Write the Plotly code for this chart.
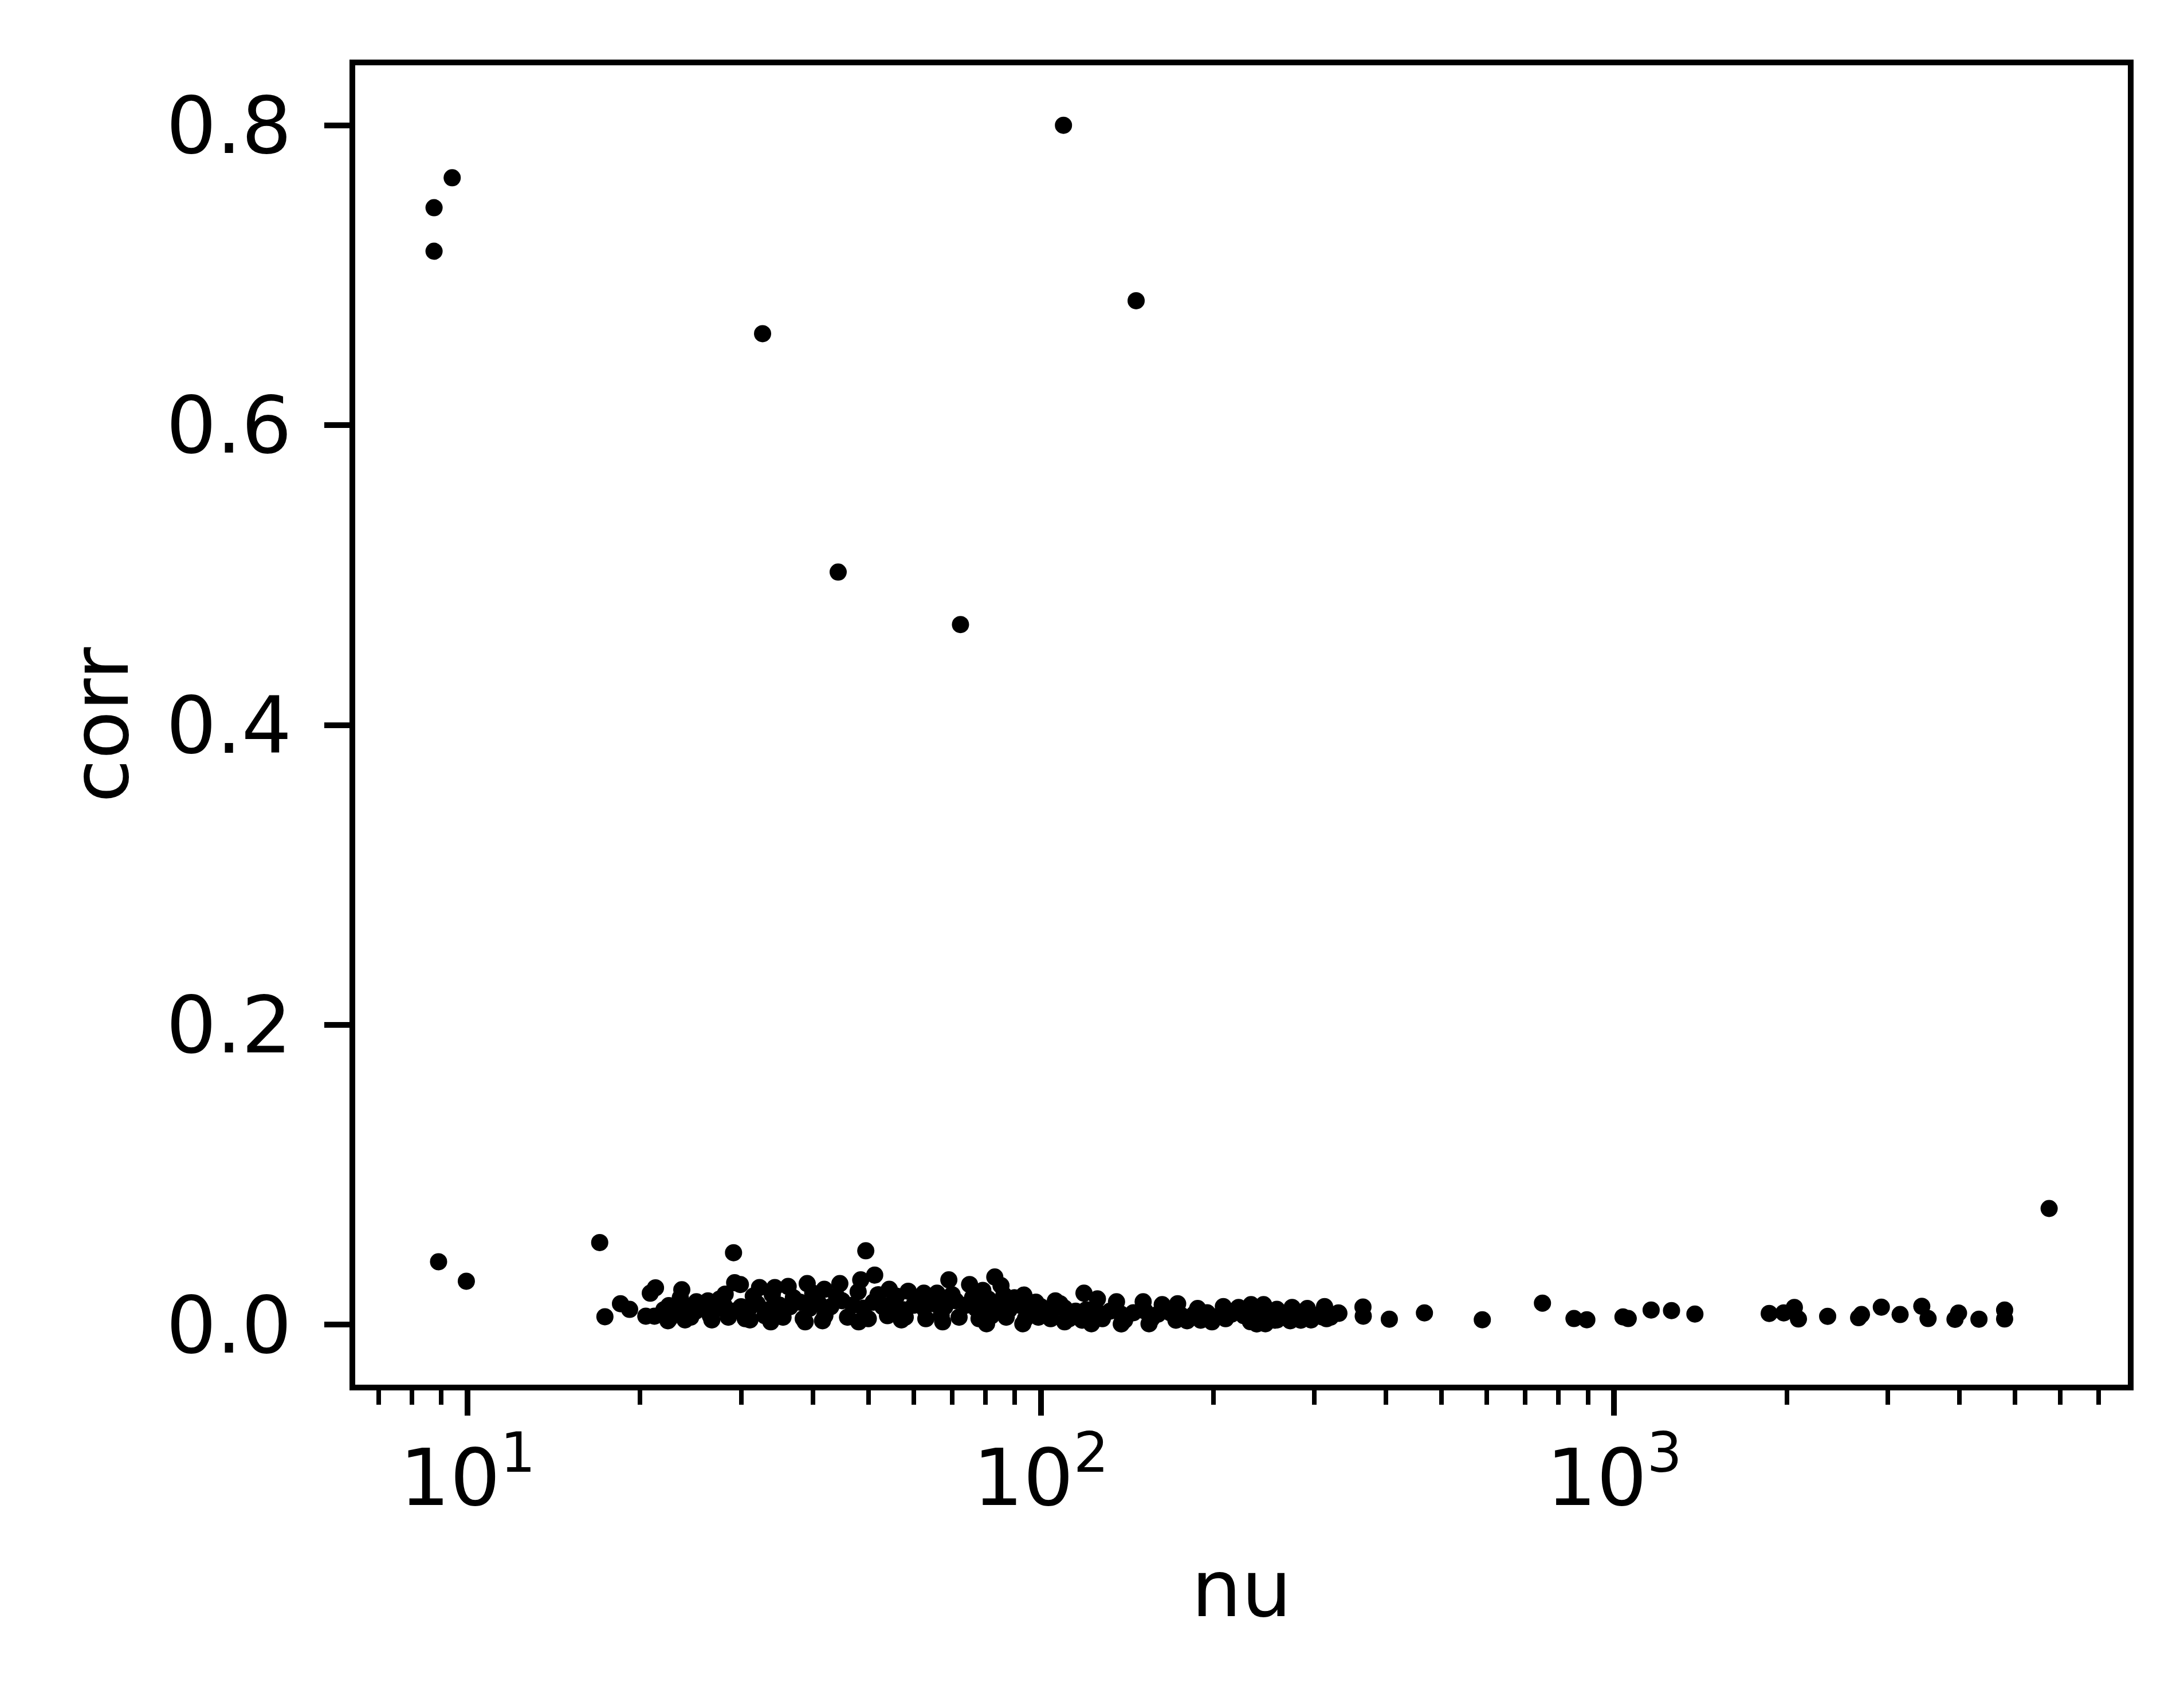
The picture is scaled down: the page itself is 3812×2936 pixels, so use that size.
import plotly.graph_objects as go

# isolated points
nu_out = [8.74, 8.74, 9.4, 8.9, 9.95, 17.0, 17.36, 32.7, 44.3, 72.4, 109.5, 146.6, 5737, 29.1, 49.5]
corr_out = [0.745, 0.716, 0.765, 0.042, 0.029, 0.0548, 0.0053, 0.661, 0.502, 0.467, 0.800, 0.683, 0.0775, 0.048, 0.0493]

# upper edge of the dense band
nu_top = [18.48, 19.17, 20.83, 21.27, 22.44, 23.64, 25.07, 26.26, 28.14, 29.23, 29.91, 32.3,
          34.35, 36.24, 39.12, 41.9, 44.6, 48.5, 51.3, 54.4, 58.7, 62.5, 65.9, 69.1, 75.1,
          79.2, 83.1, 85.2, 86.2, 93.4, 106.0, 118.9, 125.5, 135.5, 150.8, 162.8, 173.2,
          187.7, 195.7, 208.1, 221.3, 232.6, 244.6, 258.0, 274.3, 291.6, 312.5, 331.0]
corr_top = [0.0140, 0.0102, 0.0210, 0.0246, 0.0127, 0.0233, 0.0153, 0.0159, 0.0204, 0.0280,
            0.0268, 0.0248, 0.0248, 0.0255, 0.0274, 0.0236, 0.0274, 0.0299, 0.0331, 0.0236,
            0.0223, 0.0210, 0.0210, 0.0299, 0.0268, 0.0229, 0.0318, 0.0261, 0.0198, 0.0198,
            0.0159, 0.0210, 0.0172, 0.0153, 0.0153, 0.0134, 0.0140, 0.0108, 0.0070, 0.0121,
            0.0115, 0.0134, 0.0134, 0.0102, 0.0115, 0.0108, 0.0121, 0.0076]

# lower edge of the dense band
nu_low = [20.46, 21.18, 22.36, 23.95, 26.67, 31.08, 33.8, 38.8, 41.6, 48.1, 57.1, 67.4, 80.4,
          93.0, 110.0, 122.5, 138.1, 154.4, 179.9, 198.8, 238.0, 246.4, 272.2, 296.0, 310.0]
corr_low = [0.0057, 0.0057, 0.0026, 0.0032, 0.0032, 0.0032, 0.0019, 0.0019, 0.0026, 0.0019,
            0.0032, 0.0019, 0.0006, 0.0006, 0.0019, 0.0006, 0.0005, 0.0006, 0.0026, 0.0019,
            0.0005, 0.0006, 0.0026, 0.0032, 0.0051]

# points hidden inside the solid band (estimated)
nu_mid = [22, 23, 24, 25, 26, 27, 28, 29, 30, 31, 32, 33.5, 35, 36.5, 38, 39.5, 41, 43, 45, 47,
          49, 51, 53, 55, 57.5, 60, 62.5, 65, 68, 71, 74, 77, 80, 84, 88, 92, 96, 100, 105,
          110, 115, 120, 126, 132, 138, 145, 152, 160, 168, 176, 185, 195, 205, 215, 226, 238,
          250, 262, 275, 290, 305, 320,
          22.5, 24.5, 26.5, 28.5, 30.5, 33, 35.5, 38.5, 42, 46, 50, 54, 58, 63, 67, 72, 78, 82,
          87, 94, 99, 104, 112, 118, 128, 140, 156, 172, 190, 210, 232, 256, 284, 315,
          23.5, 27.5, 31.5, 34, 37, 40, 44, 48, 52, 56, 61, 66, 70, 76, 81, 86, 90, 98, 108]
corr_mid = [0.010, 0.008, 0.011, 0.009, 0.012, 0.010, 0.013, 0.009, 0.012, 0.011, 0.014, 0.010,
            0.013, 0.012, 0.015, 0.011, 0.014, 0.012, 0.016, 0.013, 0.011, 0.015, 0.012, 0.014,
            0.010, 0.013, 0.011, 0.014, 0.012, 0.016, 0.013, 0.011, 0.014, 0.012, 0.010, 0.013,
            0.011, 0.012, 0.010, 0.011, 0.009, 0.010, 0.008, 0.009, 0.007, 0.008, 0.009, 0.007,
            0.008, 0.006, 0.007, 0.008, 0.006, 0.007, 0.006, 0.007, 0.005, 0.006, 0.007, 0.005,
            0.006, 0.005,
            0.004, 0.005, 0.006, 0.005, 0.004, 0.006, 0.005, 0.004, 0.006, 0.005, 0.004, 0.006,
            0.005, 0.004, 0.006, 0.005, 0.004, 0.006, 0.005, 0.004, 0.005, 0.004, 0.004, 0.003,
            0.004, 0.003, 0.004, 0.003, 0.003, 0.004, 0.002, 0.003, 0.003, 0.004,
            0.018, 0.017, 0.019, 0.020, 0.018, 0.021, 0.019, 0.022, 0.020, 0.019, 0.018, 0.017,
            0.020, 0.018, 0.017, 0.016, 0.018, 0.015, 0.014]

# sparse tail to the right
nu_tail = [249.3, 258.2, 273.2, 283.7, 292.4, 311.5, 330.4, 364.6, 365, 405.3, 466.7, 588.8,
           749.7, 851, 896, 1036, 1058, 1160, 1259, 1383, 1864, 1976, 2062, 2096, 2357, 2669,
           2700, 2924, 3153, 3440, 3528, 3931, 3987, 4328, 4798, 4798]
corr_tail = [0.0083, 0.0032, 0.0079, 0.0083, 0.0064, 0.0098, 0.0079, 0.0118, 0.0057, 0.0037,
             0.0079, 0.0033, 0.0144, 0.0041, 0.0033, 0.0052, 0.0041, 0.0098, 0.0094, 0.0071,
             0.0075, 0.0079, 0.0115, 0.0038, 0.0056, 0.0047, 0.0068, 0.0117, 0.0068, 0.0123,
             0.0041, 0.0036, 0.0078, 0.0037, 0.0098, 0.0038]

nu = nu_out + nu_top + nu_low + nu_mid + nu_tail
corr = corr_out + corr_top + corr_low + corr_mid + corr_tail

major_x = [10, 100, 1000]
major_x_text = ["10<sup>1</sup>", "10<sup>2</sup>", "10<sup>3</sup>"]
minor_x = [7, 8, 9, 20, 30, 40, 50, 60, 70, 80, 90, 200, 300, 400, 500, 600, 700, 800, 900,
           2000, 3000, 4000, 5000, 6000, 7000]
y_ticks = [0.0, 0.2, 0.4, 0.6, 0.8]

fnt = dict(family="DejaVu Sans", size=138, color="black")

fig = go.Figure()
fig.add_trace(go.Scatter(x=nu, y=corr, mode="markers",
                         marker=dict(size=30, color="black", line=dict(width=0)),
                         showlegend=False))

fig.update_layout(
    width=3812, height=2936,
    margin=dict(l=612, r=106, t=106, b=527),
    paper_bgcolor="white", plot_bgcolor="white",
    font=fnt,
)
fig.update_xaxes(
    type="log", range=[0.804, 3.896],
    showline=True, linewidth=10, linecolor="black", mirror=True,
    showgrid=False, zeroline=False,
    ticks="outside", ticklen=44, tickwidth=10, tickcolor="black",
    tickvals=major_x, ticktext=major_x_text, tickfont=fnt, ticklabelstandoff=-10,
    minor=dict(tickvals=minor_x, ticks="outside", ticklen=25, tickwidth=8, tickcolor="black", showgrid=False),
    title=dict(text="nu", font=fnt, standoff=70),
)
fig.update_yaxes(
    range=[-0.040, 0.8400],
    showline=True, linewidth=10, linecolor="black", mirror=True,
    showgrid=False, zeroline=False,
    ticks="outside", ticklen=44, tickwidth=10, tickcolor="black",
    tickvals=y_ticks, ticktext=["%.1f" % v for v in y_ticks], tickfont=fnt, ticklabelstandoff=29,
    title=dict(text="corr", font=fnt, standoff=24),
)

fig.write_html("out.html")
